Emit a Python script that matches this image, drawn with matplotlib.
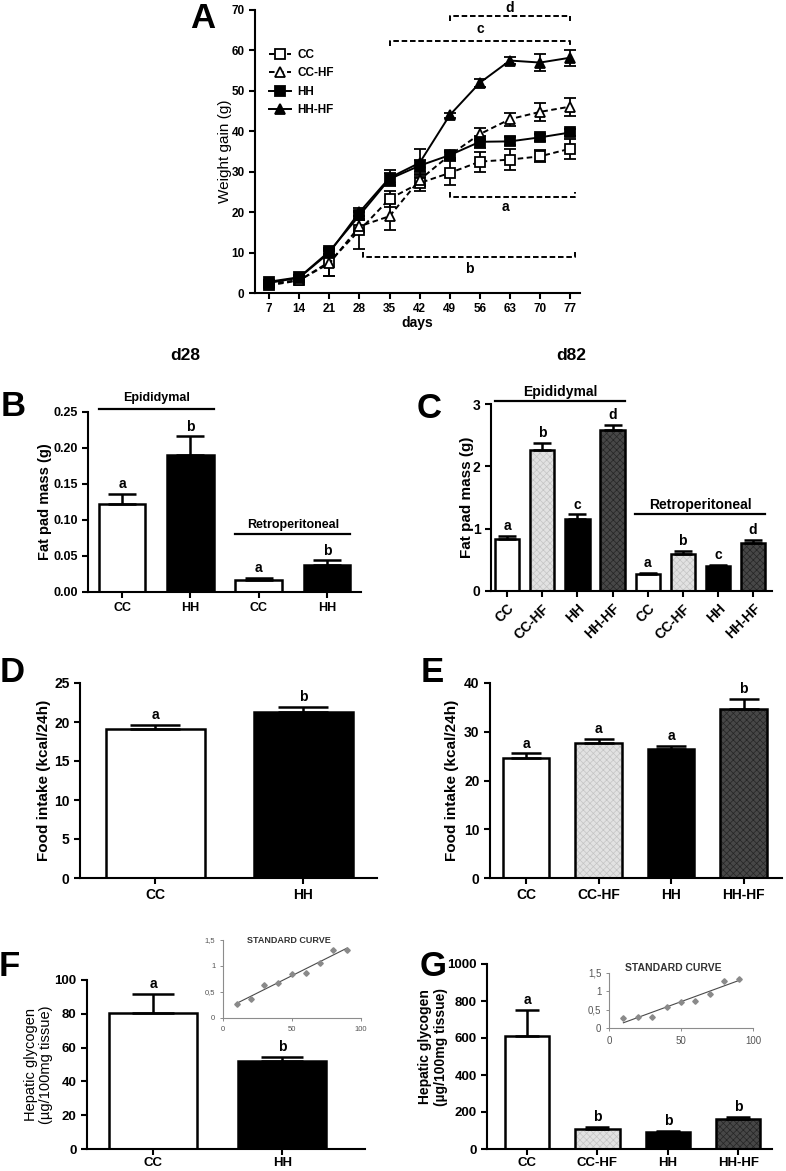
import numpy as np
import matplotlib
matplotlib.use("Agg")
import matplotlib.pyplot as plt

plt.rcParams['font.family'] = ['Liberation Sans', 'DejaVu Sans']
plt.rcParams['lines.scale_dashes'] = False
plt.rcParams['hatch.linewidth'] = 0.5

# ---- data ----
days = [7, 14, 21, 28, 35, 42, 49, 56, 63, 70, 77]
gain_cc = [1.9, 3.1, 7.7, 15.5, 23.3, 27.2, 29.7, 32.5, 33.0, 33.8, 35.7]
gain_cc_err = [0.5, 0.5, 3.5, 4.5, 2.0, 2.0, 3.0, 2.5, 2.5, 1.5, 2.5]
gain_cchf = [2.3, 3.2, 7.3, 16.5, 19.0, 28.0, 34.1, 39.3, 43.0, 44.8, 46.1]
gain_cchf_err = [0.5, 0.5, 3.0, 1.5, 3.3, 1.5, 1.0, 1.5, 1.6, 2.3, 2.2]
gain_hh = [2.8, 3.9, 10.3, 19.2, 28.2, 31.5, 34.1, 37.4, 37.5, 38.5, 39.7]
gain_hh_err = [0.5, 0.5, 0.7, 1.0, 1.5, 1.5, 0.8, 1.5, 1.0, 0.8, 0.8]
gain_hhhf = [2.5, 3.8, 10.0, 20.0, 28.5, 32.2, 44.0, 52.0, 57.5, 57.0, 58.2]
gain_hhhf_err = [0.5, 0.5, 0.6, 1.0, 2.0, 3.5, 0.6, 1.0, 0.8, 2.2, 2.0]

# brackets: letter, x start, x end, y, tick direction, label x, label y
brackets = [
    ('d', 49, 77, 68.6, -1, 63, 70.5),
    ('c', 35, 77, 62.4, -1, 56, 65.3),
    ('a', 49, 78.2, 23.8, 1, 62, 21.2),
    ('b', 28.8, 78.2, 8.9, 1, 53.5, 6.0),
]

b_groups = ['CC', 'HH', 'CC', 'HH']
b_vals = [0.122, 0.190, 0.017, 0.038]
b_errs = [0.014, 0.026, 0.003, 0.006]
b_letters = ['a', 'b', 'a', 'b']

four = ['CC', 'CC-HF', 'HH', 'HH-HF']
c_groups = four + four
c_vals = [0.83, 2.27, 1.15, 2.59, 0.27, 0.60, 0.40, 0.77]
c_errs = [0.06, 0.10, 0.08, 0.07, 0.02, 0.04, 0.02, 0.05]
c_letters = ['a', 'b', 'c', 'd', 'a', 'b', 'c', 'd']

d_groups = ['CC', 'HH']
d_vals = [19.1, 21.3]
d_errs = [0.55, 0.65]
d_letters = ['a', 'b']

e_vals = [24.7, 27.6, 26.4, 34.75]
e_errs = [0.85, 1.0, 0.65, 2.05]
e_letters = ['a', 'a', 'a', 'b']

f_groups = ['CC', 'HH']
f_vals = [80.2, 52.0]
f_errs = [11.5, 2.4]
f_letters = ['a', 'b']

g_vals = [610, 107, 94, 160]
g_errs = [143, 14, 6, 14]
g_letters = ['a', 'b', 'b', 'b']

std_x = [10, 20, 30, 40, 50, 60, 70, 80, 90]
std_f = [0.27, 0.37, 0.64, 0.67, 0.85, 0.87, 1.05, 1.30, 1.31]
std_g = [0.27, 0.30, 0.31, 0.57, 0.72, 0.74, 0.93, 1.28, 1.34]

FILL = {
    'CC': ('white', None, None),
    'CC-HF': ('#e2e2e2', '#c4c4c4', 'xxxxx'),
    'HH': ('black', None, None),
    'HH-HF': ('#474747', '#252525', 'xxxxx'),
}

W, H = 786, 1171
fig = plt.figure(figsize=(W / 100, H / 100), dpi=100)


def add_ax(l, t, r, b):
    return fig.add_axes([l / W, 1 - b / H, (r - l) / W, (b - t) / H])


def style(ax, lw=1.5):
    for s in ['top', 'right']:
        ax.spines[s].set_visible(False)
    for s in ['left', 'bottom']:
        ax.spines[s].set_linewidth(lw)
    ax.tick_params(direction='out', length=4, width=lw)


def draw_bars(ax, groups, vals, errs, letters, width, capsize, fs=10):
    x = np.arange(len(vals))
    for xi, g, v in zip(x, groups, vals):
        face, hcol, hatch = FILL[g]
        if hatch:
            ax.bar(xi, v, width, color=face, edgecolor=hcol, hatch=hatch, linewidth=0, zorder=2)
        else:
            ax.bar(xi, v, width, color=face, linewidth=0, zorder=2)
        ax.bar(xi, v, width, facecolor='none', edgecolor='black', linewidth=1.8, zorder=3)
    ax.errorbar(x, vals, yerr=[np.zeros(len(vals)), errs], fmt='none', ecolor='black',
                elinewidth=1.8, capsize=capsize, capthick=1.8, zorder=4)
    for xi, v, e, l in zip(x, vals, errs, letters):
        ax.annotate(l, (xi, v + e), xytext=(0, 2), textcoords='offset points',
                    ha='center', va='bottom', fontsize=fs, fontweight='bold')
    return x


def ticks(ax, yt, ylab, xt, xlab, fs=9, rot=0):
    ax.set_yticks(yt, ylab, fontsize=fs, fontweight='bold')
    if rot:
        ax.set_xticks(xt, xlab, fontsize=fs, fontweight='bold', rotation=rot,
                      ha='right', rotation_mode='anchor')
    else:
        ax.set_xticks(xt, xlab, fontsize=fs, fontweight='bold')


def group_line(ax, x0, x1, y, ty, text, fs):
    ax.plot([x0, x1], [y, y], color='black', lw=1.6, clip_on=False)
    ax.text((x0 + x1) / 2, ty, text, ha='center', va='center', fontsize=fs, fontweight='bold')


def inset(l, t, r, b, ys, title, fs, tfs, tpos):
    ia = add_ax(l, t, r, b)
    ia.set_facecolor('none')
    for s in ['top', 'right']:
        ia.spines[s].set_visible(False)
    for s in ['left', 'bottom']:
        ia.spines[s].set_linewidth(0.8)
        ia.spines[s].set_color('#8c8c8c')
    ia.tick_params(direction='out', length=2, width=0.7, colors='#8c8c8c', labelcolor='#555555', labelsize=fs)
    ia.plot(std_x, ys, 'D', color='#8a8a8a', ms=2.8, zorder=3)
    k, c0 = np.polyfit(std_x, ys, 1)
    fx = np.array([std_x[0], std_x[-1]])
    ia.plot(fx, k * fx + c0, color='#4a4a4a', lw=0.8)
    ia.set_xlim(0, 100)
    ia.set_ylim(0, 1.5)
    ia.set_xticks([0, 50, 100])
    ia.set_yticks([0, 0.5, 1, 1.5], ['0', '0,5', '1', '1,5'])
    ia.text(tpos[0], tpos[1], title, transform=ia.transAxes, ha='center', va='center',
            fontsize=tfs, fontweight='bold', color='#333333')
    return ia


# ---- panel A ----
ax = add_ax(255, 10, 580, 293)
style(ax)
series = [
    ('CC', gain_cc, gain_cc_err, 's', 'white', (4, 2.5)),
    ('CC-HF', gain_cchf, gain_cchf_err, '^', 'white', (4, 2.5)),
    ('HH', gain_hh, gain_hh_err, 's', 'black', None),
    ('HH-HF', gain_hhhf, gain_hhhf_err, '^', 'black', None),
]
for name, vals, errs, mk, mfc, dash in series:
    ax.errorbar(days, vals, yerr=errs, fmt='none', ecolor='black', elinewidth=1.3,
                capsize=4, capthick=1.3, zorder=2)
    line, = ax.plot(days, vals, marker=mk, color='black', mfc=mfc, mec='black', ms=6.5,
                    mew=1.3, lw=1.4, label=name, zorder=3)
    if dash:
        line.set_dashes(dash)
for lt, x0, x1, y, d, lx, ly in brackets:
    tk = 1.3 * d
    ax.plot([x0, x0, x1, x1], [y + tk, y, y, y + tk], color='black', lw=1.4,
            dashes=(4, 2), clip_on=False)
    ax.text(lx, ly, lt, ha='center', va='center', fontsize=10, fontweight='bold')
ax.set_xlim(3.7, 79.3)
ax.set_ylim(0, 70)
ticks(ax, range(0, 71, 10), [str(v) for v in range(0, 71, 10)], days, [str(d) for d in days], fs=8.5)
ax.set_ylabel('Weight gain (g)', fontsize=11, va='center')
ax.yaxis.set_label_coords(-0.092, 0.5)
ax.set_xlabel('days', fontsize=10, fontweight='bold', va='center')
ax.xaxis.set_label_coords(0.5, -0.106)
ax.legend(loc='upper left', bbox_to_anchor=(0.01, 0.9), frameon=False,
          prop=dict(weight='bold', size=8.5), handlelength=1.9, labelspacing=0.55,
          handletextpad=0.5, numpoints=1)

fig.text(185 / W, 1 - 356 / H, 'd28', ha='center', va='center', fontsize=12.5, fontweight='bold')
fig.text(571 / W, 1 - 356 / H, 'd82', ha='center', va='center', fontsize=12.5, fontweight='bold')

# ---- panel B ----
ax = add_ax(88, 412, 361, 592)
style(ax)
x = draw_bars(ax, b_groups, b_vals, b_errs, b_letters, 0.68, 10)
ax.set_xlim(-0.5, 3.5)
ax.set_ylim(0, 0.25)
ticks(ax, [0, 0.05, 0.10, 0.15, 0.20, 0.25], ['0.00', '0.05', '0.10', '0.15', '0.20', '0.25'], x, b_groups)
ax.set_ylabel('Fat pad mass (g)', fontsize=10.5, fontweight='bold', va='center')
ax.yaxis.set_label_coords(-0.158, 0.5)
group_line(ax, -0.34, 1.34, 0.254, 0.269, 'Epididymal', 9)
group_line(ax, 1.66, 3.34, 0.081, 0.093, 'Retroperitoneal', 9)

# ---- panel C ----
ax = add_ax(491, 404, 772, 591)
style(ax)
x = draw_bars(ax, c_groups, c_vals, c_errs, c_letters, 0.69, 6.5)
ax.set_xlim(-0.46, 7.54)
ax.set_ylim(0, 3)
ticks(ax, [0, 1, 2, 3], ['0', '1', '2', '3'], x, c_groups, fs=10, rot=45)
ax.set_ylabel('Fat pad mass (g)', fontsize=11, fontweight='bold', va='center')
ax.yaxis.set_label_coords(-0.085, 0.5)
group_line(ax, -0.35, 3.36, 3.05, 3.2, 'Epididymal', 10)
group_line(ax, 3.65, 7.35, 1.23, 1.38, 'Retroperitoneal', 10)

# ---- panel D ----
ax = add_ax(80, 683, 377, 878)
style(ax)
x = draw_bars(ax, d_groups, d_vals, d_errs, d_letters, 0.67, 18)
ax.set_xlim(-0.51, 1.5)
ax.set_ylim(0, 25)
ticks(ax, range(0, 26, 5), [str(v) for v in range(0, 26, 5)], x, d_groups, fs=10)
ax.set_ylabel('Food intake (kcal/24h)', fontsize=11, fontweight='bold', va='center')
ax.yaxis.set_label_coords((44 - 80) / 297, 0.5)

# ---- panel E ----
ax = add_ax(490, 683, 782, 878)
style(ax)
x = draw_bars(ax, four, e_vals, e_errs, e_letters, 0.64, 11)
ax.set_xlim(-0.5, 3.53)
ax.set_ylim(0, 40)
ticks(ax, range(0, 41, 10), [str(v) for v in range(0, 41, 10)], x, four, fs=10)
ax.set_ylabel('Food intake (kcal/24h)', fontsize=11, fontweight='bold', va='center')
ax.yaxis.set_label_coords((452 - 490) / 292, 0.5)

# ---- panel F ----
ax = add_ax(87, 980, 365, 1149)
style(ax)
ax.tick_params(axis='x', pad=1.5)
x = draw_bars(ax, f_groups, f_vals, f_errs, f_letters, 0.68, 15)
ax.set_xlim(-0.51, 1.64)
ax.set_ylim(0, 100)
ticks(ax, range(0, 101, 20), [str(v) for v in range(0, 101, 20)], x, f_groups, fs=9.5)
ax.set_ylabel('Hepatic glycogen\n(µg/100mg tissue)', fontsize=10.5, va='center', linespacing=1.15)
ax.yaxis.set_label_coords(-0.174, 0.5)
inset(223, 940, 361, 1018, std_f, 'STANDARD CURVE', 5.5, 6.5, (0.478, 0.99))

# ---- panel G ----
ax = add_ax(487, 964, 772, 1149)
style(ax)
ax.tick_params(axis='x', pad=1.5)
x = draw_bars(ax, four, g_vals, g_errs, g_letters, 0.63, 8.5)
ax.set_xlim(-0.57, 3.48)
ax.set_ylim(0, 1000)
ticks(ax, range(0, 1001, 200), [str(v) for v in range(0, 1001, 200)], x, four, fs=9.5)
ax.set_ylabel('Hepatic glycogen\n(µg/100mg tissue)', fontsize=10, fontweight='bold', va='center',
              linespacing=1.15)
ax.yaxis.set_label_coords(-0.189, 0.553)
inset(609, 973, 753, 1028, std_g, 'STANDARD CURVE', 7, 7.5, (0.444, 1.085))

# ---- panel letters ----
for lt, px, py in [('A', 203, 18), ('B', 13, 407), ('C', 429, 408), ('D', 12, 672),
                   ('E', 432, 672), ('F', 9, 966), ('G', 433, 966)]:
    fig.text(px / W, 1 - py / H, lt, ha='center', va='center', fontsize=25, fontweight='bold')

fig.savefig('out.png', dpi=100)
